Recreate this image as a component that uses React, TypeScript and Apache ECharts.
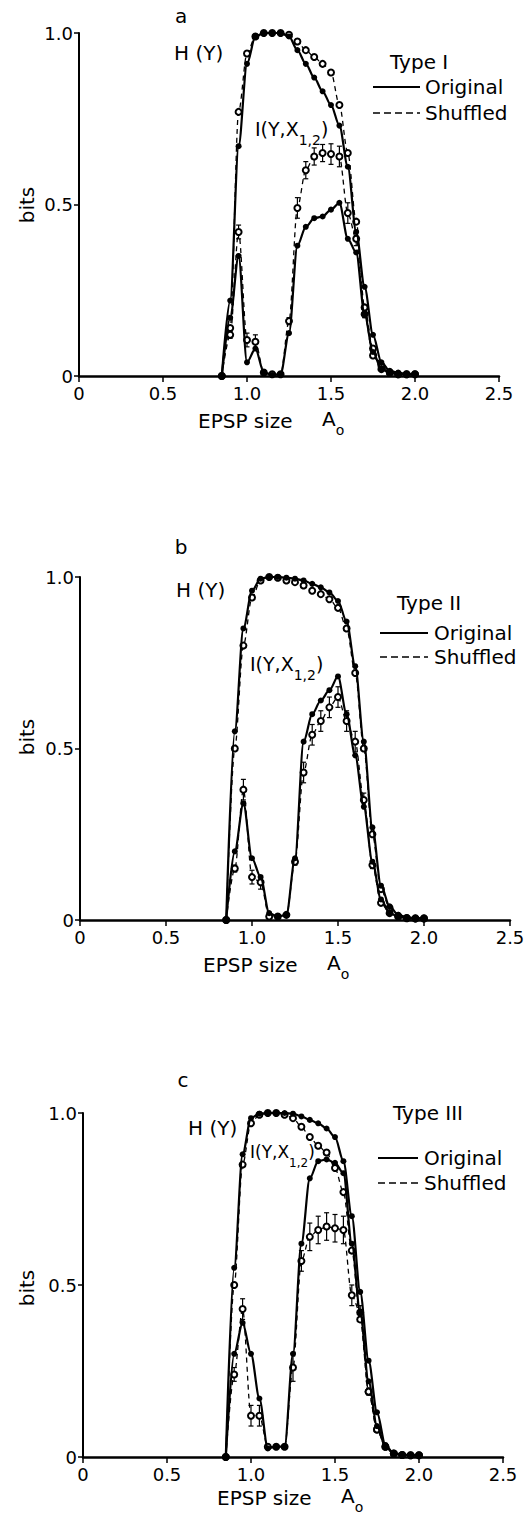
import React, { useEffect, useRef } from "react";
import * as echarts from "echarts";

// ---------- data ----------
const X_VALUES = [0.85, 0.9, 0.95, 1.0, 1.05, 1.1, 1.15, 1.2, 1.25, 1.3, 1.35, 1.4, 1.45, 1.5, 1.55, 1.6, 1.65, 1.7, 1.75, 1.8, 1.85, 1.9, 1.95, 2.0];
const X_TICK_LABELS = ["0", "0.5", "1.0", "1.5", "2.0", "2.5"];
const Y_TICK_LABELS = ["0", "0.5", "1.0"];

// panel a (Type I)
const A_H_ORIG = [0, 0.22, 0.67, 0.91, 0.99, 1.0, 1.0, 1.0, 0.99, 0.95, 0.91, 0.87, 0.83, 0.79, 0.73, 0.61, 0.42, 0.26, 0.12, 0.04, 0.015, 0.01, 0.005, 0.005];
const A_H_SHUF = [0, 0.14, 0.77, 0.94, 0.99, 1.0, 1.0, 1.0, 0.995, 0.975, 0.95, 0.93, 0.91, 0.885, 0.79, 0.65, 0.45, 0.2, 0.08, 0.03, 0.01, 0.005, 0.005, 0.005];
const A_I_ORIG = [0, 0.17, 0.35, 0.04, 0.08, 0.01, 0.003, 0.005, 0.125, 0.38, 0.435, 0.46, 0.465, 0.485, 0.505, 0.4, 0.36, 0.18, 0.07, 0.02, 0.01, 0.005, 0.005, 0.005];
const A_I_SHUF = [0, 0.12, 0.42, 0.105, 0.1, 0.01, 0.005, 0.005, 0.16, 0.49, 0.6, 0.64, 0.65, 0.647, 0.64, 0.475, 0.4, 0.18, 0.06, 0.02, 0.01, 0.005, 0.005, 0.005];
const A_I_ERR = [0, 0.01, 0.02, 0.02, 0.02, 0, 0, 0, 0.01, 0.03, 0.025, 0.025, 0.025, 0.03, 0.03, 0.03, 0.02, 0.01, 0, 0, 0, 0, 0, 0];

// panel b (Type II)
const B_H_ORIG = [0, 0.55, 0.85, 0.96, 0.995, 1.0, 1.0, 0.998, 0.995, 0.99, 0.98, 0.97, 0.955, 0.93, 0.87, 0.74, 0.52, 0.27, 0.1, 0.04, 0.015, 0.008, 0.005, 0.005];
const B_H_SHUF = [0, 0.5, 0.8, 0.94, 0.99, 1.0, 0.998, 0.99, 0.985, 0.975, 0.96, 0.95, 0.935, 0.91, 0.85, 0.72, 0.5, 0.25, 0.09, 0.035, 0.012, 0.006, 0.004, 0.004];
const B_I_ORIG = [0, 0.2, 0.34, 0.18, 0.125, 0.02, 0.01, 0.015, 0.18, 0.52, 0.6, 0.64, 0.67, 0.71, 0.6, 0.48, 0.33, 0.17, 0.06, 0.02, 0.01, 0.005, 0.005, 0.005];
const B_I_SHUF = [0, 0.15, 0.38, 0.125, 0.11, 0.01, 0.01, 0.015, 0.17, 0.43, 0.54, 0.58, 0.62, 0.65, 0.58, 0.52, 0.35, 0.16, 0.05, 0.02, 0.01, 0.005, 0.005, 0.005];
const B_I_ERR = [0, 0.01, 0.03, 0.02, 0.02, 0, 0, 0, 0.01, 0.03, 0.03, 0.03, 0.03, 0.03, 0.03, 0.03, 0.02, 0.01, 0, 0, 0, 0, 0, 0];

// panel c (Type III)
const C_H_ORIG = [0, 0.55, 0.88, 0.985, 0.998, 1.0, 1.0, 1.0, 0.998, 0.99, 0.98, 0.97, 0.955, 0.93, 0.86, 0.7, 0.48, 0.28, 0.13, 0.035, 0.01, 0.008, 0.005, 0.005];
const C_H_SHUF = [0, 0.5, 0.85, 0.97, 0.995, 1.0, 1.0, 0.995, 0.985, 0.96, 0.93, 0.905, 0.885, 0.84, 0.77, 0.6, 0.4, 0.19, 0.08, 0.03, 0.01, 0.006, 0.005, 0.005];
const C_I_ORIG = [0, 0.3, 0.39, 0.3, 0.17, 0.025, 0.03, 0.03, 0.3, 0.62, 0.81, 0.86, 0.865, 0.855, 0.825, 0.62, 0.42, 0.22, 0.09, 0.03, 0.01, 0.006, 0.005, 0.005];
const C_I_SHUF = [0, 0.24, 0.43, 0.12, 0.12, 0.03, 0.03, 0.03, 0.26, 0.57, 0.64, 0.66, 0.67, 0.665, 0.66, 0.47, 0.42, 0.19, 0.08, 0.03, 0.01, 0.006, 0.005, 0.005];
const C_I_ERR = [0, 0.02, 0.03, 0.03, 0.03, 0, 0, 0, 0.04, 0.03, 0.04, 0.04, 0.04, 0.04, 0.04, 0.03, 0.02, 0.01, 0, 0, 0, 0, 0, 0];

const PANEL_LETTERS = ["a", "b", "c"];
const TYPE_LABELS = ["Type I", "Type II", "Type III"];
const LEGEND_LABELS = ["Original", "Shuffled"];

// ---------- layout ----------
const FONT = '"DejaVu Sans", "Liberation Sans", sans-serif';
const FS = 18; // tick labels
const LS = 20; // annotation labels

const PANELS = [
  {
    hOrig: A_H_ORIG, hShuf: A_H_SHUF, iOrig: A_I_ORIG, iShuf: A_I_SHUF, iErr: A_I_ERR,
    grid: { left: 79, top: 33, width: 420, height: 343 },
    letter: [181, 16], hLabel: [174, 53], iLabel: [255, 133], iSize: 19, type: [390, 62],
    leg: { x1: 373, x2: 420, y1: 87, y2: 113, tx: 425 },
    bits: 205, xtitle: { x: 198, y: 421 },
  },
  {
    hOrig: B_H_ORIG, hShuf: B_H_SHUF, iOrig: B_I_ORIG, iShuf: B_I_SHUF, iErr: B_I_ERR,
    grid: { left: 80, top: 577, width: 430, height: 343 },
    letter: [181, 547], hLabel: [176, 590], iLabel: [250, 668], iSize: 19, type: [397, 603],
    leg: { x1: 380, x2: 428, y1: 633, y2: 657, tx: 434 },
    bits: 737, xtitle: { x: 203, y: 965 },
  },
  {
    hOrig: C_H_ORIG, hShuf: C_H_SHUF, iOrig: C_I_ORIG, iShuf: C_I_SHUF, iErr: C_I_ERR,
    grid: { left: 83, top: 1113, width: 420, height: 344 },
    letter: [183, 1080], hLabel: [188, 1128], iLabel: [250, 1156], iSize: 17, type: [393, 1113],
    leg: { x1: 378, x2: 418, y1: 1158, y2: 1183, tx: 424 },
    bits: 1288, xtitle: { x: 217, y: 1498 },
  },
];

function pairs(vals: number[]) {
  return X_VALUES.map((x, i) => [x, vals[i]]);
}

function tickFmt(labels: string[], step: number) {
  return (v: number) => labels[Math.round(v / step)] ?? "";
}

function richStyles(size: number) {
  return {
    m: { fontSize: size, fontFamily: FONT, fill: "#000", lineHeight: size + 8, verticalAlign: "top" },
    s: { fontSize: Math.round(size * 0.72), fontFamily: FONT, fill: "#000", lineHeight: Math.round(size * 0.72) + 1, verticalAlign: "bottom" },
  };
}

function txt(x: number, y: number, text: string, align = "left", extra: any = {}, size = LS) {
  return {
    type: "text",
    x,
    y,
    silent: true,
    ...extra,
    style: {
      text,
      fill: "#000",
      fontSize: size,
      fontFamily: FONT,
      align,
      verticalAlign: "middle",
    },
  };
}

function richTxt(x: number, y: number, text: string, size = LS) {
  return {
    type: "text",
    x,
    y,
    silent: true,
    style: {
      text,
      rich: richStyles(size),
      fill: "#000",
      fontSize: size,
      fontFamily: FONT,
      align: "left",
      verticalAlign: "middle",
    },
  };
}

function buildOption() {
  const grid: any[] = [];
  const xAxis: any[] = [];
  const yAxis: any[] = [];
  const series: any[] = [];
  const graphic: any[] = [];

  PANELS.forEach((p, i) => {
    grid.push({ ...p.grid, containLabel: false });
    xAxis.push({
      type: "value",
      gridIndex: i,
      min: 0,
      max: 2.5,
      interval: 0.5,
      axisLine: { show: true, onZero: false, lineStyle: { color: "#000", width: 2.5 } },
      axisTick: { show: true, length: 6, lineStyle: { color: "#000", width: 1.5 } },
      axisLabel: { formatter: tickFmt(X_TICK_LABELS, 0.5), fontSize: FS, fontFamily: FONT, color: "#000", margin: 8 },
      splitLine: { show: false },
    });
    yAxis.push({
      type: "value",
      gridIndex: i,
      min: 0,
      max: 1,
      interval: 0.5,
      axisLine: { show: true, onZero: false, lineStyle: { color: "#000", width: 2 } },
      axisTick: { show: true, length: 5, lineStyle: { color: "#000", width: 1.5 } },
      axisLabel: { formatter: tickFmt(Y_TICK_LABELS, 0.5), fontSize: FS, fontFamily: FONT, color: "#000", margin: 6 },
      splitLine: { show: false },
    });

    const solid = { color: "#000", width: 2.2, type: "solid" };
    const dashed = { color: "#000", width: 1.3, type: [5, 4] };
    const filled = { symbol: "circle", symbolSize: 6, itemStyle: { color: "#000" } };
    const open = { symbol: "emptyCircle", symbolSize: 6, itemStyle: { color: "#000", borderWidth: 1 } };
    const common = { type: "line", xAxisIndex: i, yAxisIndex: i, smooth: 0.3, smoothMonotone: "x", silent: true };

    series.push({ ...common, name: `H shuffled ${i}`, data: pairs(p.hShuf), lineStyle: dashed, ...open, z: 2 });
    series.push({ ...common, name: `I shuffled ${i}`, data: pairs(p.iShuf), lineStyle: dashed, ...open, z: 2 });
    series.push({ ...common, name: `H original ${i}`, data: pairs(p.hOrig), lineStyle: solid, ...filled, z: 3 });
    series.push({ ...common, name: `I original ${i}`, data: pairs(p.iOrig), lineStyle: solid, ...filled, z: 3 });
    series.push({
      type: "custom",
      name: `I error ${i}`,
      xAxisIndex: i,
      yAxisIndex: i,
      silent: true,
      z: 1,
      data: X_VALUES.map((x, k) => [x, p.iShuf[k], p.iErr[k]]),
      encode: { x: 0, y: 1 },
      renderItem: (params: any, api: any) => {
        const x = api.value(0);
        const y = api.value(1);
        const e = api.value(2);
        if (!e) return { type: "group", children: [] };
        const t = api.coord([x, y + e]);
        const b = api.coord([x, y - e]);
        const st = { stroke: "#000", lineWidth: 1.2 };
        return {
          type: "group",
          children: [
            { type: "line", shape: { x1: t[0], y1: t[1], x2: b[0], y2: b[1] }, style: st },
            { type: "line", shape: { x1: t[0] - 2.5, y1: t[1], x2: t[0] + 2.5, y2: t[1] }, style: st },
            { type: "line", shape: { x1: b[0] - 2.5, y1: b[1], x2: b[0] + 2.5, y2: b[1] }, style: st },
          ],
        };
      },
    });

    // texts
    graphic.push(txt(p.letter[0], p.letter[1], PANEL_LETTERS[i], "center"));
    graphic.push(txt(p.hLabel[0], p.hLabel[1], "H (Y)"));
    graphic.push(richTxt(p.iLabel[0], p.iLabel[1], "{m|I(Y,X}{s|1,2}{m|)}", p.iSize));
    graphic.push(txt(p.type[0], p.type[1], TYPE_LABELS[i]));
    graphic.push({
      type: "line",
      silent: true,
      shape: { x1: p.leg.x1, y1: p.leg.y1, x2: p.leg.x2, y2: p.leg.y1 },
      style: { stroke: "#000", lineWidth: 2 },
    });
    graphic.push({
      type: "line",
      silent: true,
      shape: { x1: p.leg.x1, y1: p.leg.y2, x2: p.leg.x2, y2: p.leg.y2 },
      style: { stroke: "#000", lineWidth: 1.5, lineDash: [7, 4] },
    });
    graphic.push(txt(p.leg.tx, p.leg.y1, LEGEND_LABELS[0]));
    graphic.push(txt(p.leg.tx, p.leg.y2, LEGEND_LABELS[1]));
    graphic.push(txt(27, p.bits, "bits", "center", { rotation: Math.PI / 2 }));
    graphic.push(txt(p.xtitle.x, p.xtitle.y, "EPSP size"));
    graphic.push(richTxt(p.xtitle.x + 124, p.xtitle.y + 2, "{m|A}{s|o}"));
  });

  return {
    animation: false,
    backgroundColor: "#fff",
    grid,
    xAxis,
    yAxis,
    series,
    graphic: { elements: graphic },
  };
}

export default function App() {
  const ref = useRef<HTMLDivElement>(null);
  useEffect(() => {
    if (!ref.current) return;
    const chart = echarts.init(ref.current, undefined, { renderer: "svg" });
    chart.setOption(buildOption() as any);
    return () => chart.dispose();
  }, []);
  return (
    <div
      ref={ref}
      style={{ position: "absolute", left: 0, top: 0, width: 530, height: 1518, background: "#fff" }}
    />
  );
}
